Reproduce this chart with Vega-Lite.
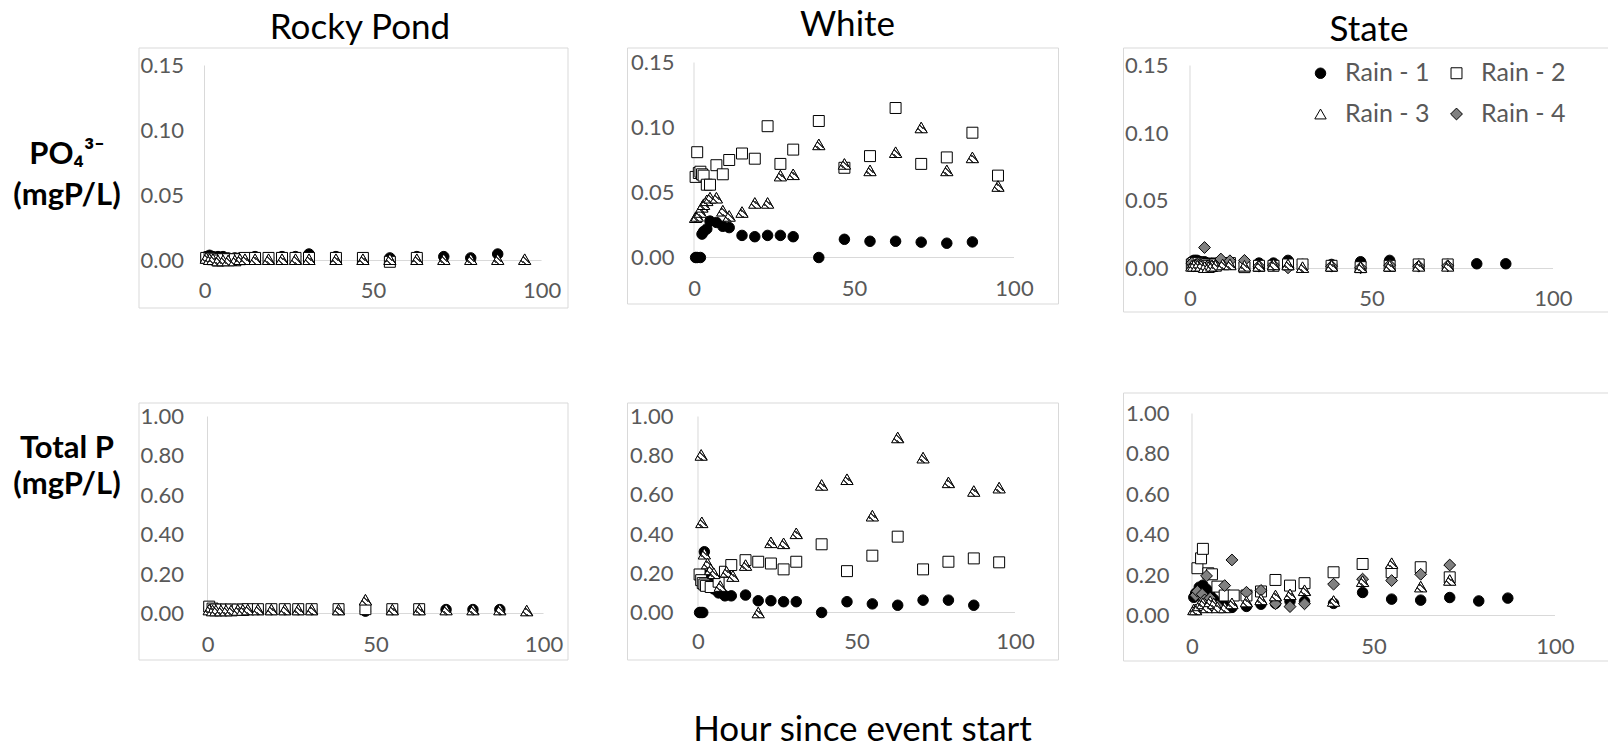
{
"$schema": "https://vega.github.io/schema/vega-lite/v6.json",
"padding": {"left": 0, "top": 7.5, "right": 0, "bottom": 0},
"config": {
 "view": {"stroke": "#d9d9d9", "strokeWidth": 1},
 "font": "Lato",
 "axis": {"domain": false, "ticks": false, "tickSize": 0, "grid": false, "labelFont": "Lato", "labelFontSize": 22, "labelColor": "#595959", "labelFlush": false, "labelOverlap": false, "title": null},
 "title": {"font": "Lato", "fontSize": 35, "fontWeight": "normal", "color": "#000000", "anchor": "middle"},
 "legend": {"orient": "none", "legendX": 1308, "legendY": 13, "direction": "horizontal", "columns": 2, "title": null, "labelFont": "Lato", "labelFontSize": 25, "labelColor": "#595959", "labelOffset": 12, "columnPadding": 14, "rowPadding": 15, "symbolStrokeColor": "#000000", "symbolStrokeWidth": 1, "padding": 0}
},
"datasets": {
"rp_po4": [
{"series":"Rain - 1","hour":0.5,"value":0.003},{"series":"Rain - 1","hour":1.5,"value":0.004},{"series":"Rain - 1","hour":2.5,"value":0.003},{"series":"Rain - 1","hour":4,"value":0.003},{"series":"Rain - 1","hour":5.5,"value":0.003},{"series":"Rain - 1","hour":7,"value":0.002},{"series":"Rain - 1","hour":9,"value":0.002},{"series":"Rain - 1","hour":10.5,"value":0.002},{"series":"Rain - 1","hour":12,"value":0.002},{"series":"Rain - 1","hour":15,"value":0.003},{"series":"Rain - 1","hour":19,"value":0.002},{"series":"Rain - 1","hour":23,"value":0.003},{"series":"Rain - 1","hour":27,"value":0.003},{"series":"Rain - 1","hour":31,"value":0.005},{"series":"Rain - 1","hour":39,"value":0.003},{"series":"Rain - 1","hour":47,"value":0.002},{"series":"Rain - 1","hour":55,"value":0.002},{"series":"Rain - 1","hour":63,"value":0.003},{"series":"Rain - 1","hour":71,"value":0.003},{"series":"Rain - 1","hour":79,"value":0.002},{"series":"Rain - 1","hour":87,"value":0.005},
{"series":"Rain - 2","hour":0.5,"value":0.002},{"series":"Rain - 2","hour":1.5,"value":0.002},{"series":"Rain - 2","hour":2.5,"value":0.001},{"series":"Rain - 2","hour":4,"value":0.0},{"series":"Rain - 2","hour":5.5,"value":0.001},{"series":"Rain - 2","hour":7,"value":0.001},{"series":"Rain - 2","hour":9,"value":0.001},{"series":"Rain - 2","hour":10.5,"value":0.001},{"series":"Rain - 2","hour":12,"value":0.002},{"series":"Rain - 2","hour":15,"value":0.002},{"series":"Rain - 2","hour":19,"value":0.002},{"series":"Rain - 2","hour":23,"value":0.002},{"series":"Rain - 2","hour":27,"value":0.002},{"series":"Rain - 2","hour":31,"value":0.002},{"series":"Rain - 2","hour":39,"value":0.002},{"series":"Rain - 2","hour":47,"value":0.002},{"series":"Rain - 2","hour":55,"value":-0.001},{"series":"Rain - 2","hour":63,"value":0.002},
{"series":"Rain - 3","hour":0.5,"value":0.002},{"series":"Rain - 3","hour":1.5,"value":0.001},{"series":"Rain - 3","hour":2.5,"value":0.001},{"series":"Rain - 3","hour":4,"value":0.0},{"series":"Rain - 3","hour":5.5,"value":0.0},{"series":"Rain - 3","hour":7,"value":0.0},{"series":"Rain - 3","hour":9,"value":0.0},{"series":"Rain - 3","hour":10.5,"value":0.001},{"series":"Rain - 3","hour":12,"value":0.001},{"series":"Rain - 3","hour":15,"value":0.001},{"series":"Rain - 3","hour":19,"value":0.001},{"series":"Rain - 3","hour":23,"value":0.001},{"series":"Rain - 3","hour":27,"value":0.001},{"series":"Rain - 3","hour":31,"value":0.001},{"series":"Rain - 3","hour":39,"value":0.001},{"series":"Rain - 3","hour":47,"value":0.001},{"series":"Rain - 3","hour":55,"value":0.001},{"series":"Rain - 3","hour":63,"value":0.001},{"series":"Rain - 3","hour":71,"value":0.001},{"series":"Rain - 3","hour":79,"value":0.001},{"series":"Rain - 3","hour":87,"value":0.001},{"series":"Rain - 3","hour":95,"value":0.001}
],
"rp_tp": [
{"series":"Rain - 1","hour":0.5,"value":0.025},{"series":"Rain - 1","hour":1.5,"value":0.02},{"series":"Rain - 1","hour":2.5,"value":0.02},{"series":"Rain - 1","hour":4,"value":0.02},{"series":"Rain - 1","hour":5.5,"value":0.02},{"series":"Rain - 1","hour":7,"value":0.02},{"series":"Rain - 1","hour":9,"value":0.02},{"series":"Rain - 1","hour":10.5,"value":0.02},{"series":"Rain - 1","hour":12,"value":0.02},{"series":"Rain - 1","hour":15,"value":0.02},{"series":"Rain - 1","hour":19,"value":0.02},{"series":"Rain - 1","hour":23,"value":0.02},{"series":"Rain - 1","hour":27,"value":0.02},{"series":"Rain - 1","hour":31,"value":0.02},{"series":"Rain - 1","hour":39,"value":0.02},{"series":"Rain - 1","hour":47,"value":0.012},{"series":"Rain - 1","hour":55,"value":0.02},{"series":"Rain - 1","hour":63,"value":0.02},{"series":"Rain - 1","hour":71,"value":0.02},{"series":"Rain - 1","hour":79,"value":0.02},{"series":"Rain - 1","hour":87,"value":0.02},
{"series":"Rain - 2","hour":0.5,"value":0.035},{"series":"Rain - 2","hour":1.5,"value":0.025},{"series":"Rain - 2","hour":2.5,"value":0.02},{"series":"Rain - 2","hour":4,"value":0.02},{"series":"Rain - 2","hour":5.5,"value":0.02},{"series":"Rain - 2","hour":7,"value":0.02},{"series":"Rain - 2","hour":9,"value":0.02},{"series":"Rain - 2","hour":10.5,"value":0.02},{"series":"Rain - 2","hour":12,"value":0.022},{"series":"Rain - 2","hour":15,"value":0.022},{"series":"Rain - 2","hour":19,"value":0.022},{"series":"Rain - 2","hour":23,"value":0.022},{"series":"Rain - 2","hour":27,"value":0.022},{"series":"Rain - 2","hour":31,"value":0.022},{"series":"Rain - 2","hour":39,"value":0.022},{"series":"Rain - 2","hour":47,"value":0.022},{"series":"Rain - 2","hour":55,"value":0.022},{"series":"Rain - 2","hour":63,"value":0.022},
{"series":"Rain - 3","hour":0.5,"value":0.02},{"series":"Rain - 3","hour":1.5,"value":0.015},{"series":"Rain - 3","hour":2.5,"value":0.015},{"series":"Rain - 3","hour":4,"value":0.015},{"series":"Rain - 3","hour":5.5,"value":0.015},{"series":"Rain - 3","hour":7,"value":0.015},{"series":"Rain - 3","hour":9,"value":0.018},{"series":"Rain - 3","hour":10.5,"value":0.018},{"series":"Rain - 3","hour":12,"value":0.02},{"series":"Rain - 3","hour":15,"value":0.02},{"series":"Rain - 3","hour":19,"value":0.02},{"series":"Rain - 3","hour":23,"value":0.02},{"series":"Rain - 3","hour":27,"value":0.02},{"series":"Rain - 3","hour":31,"value":0.02},{"series":"Rain - 3","hour":39,"value":0.02},{"series":"Rain - 3","hour":47,"value":0.07},{"series":"Rain - 3","hour":55,"value":0.02},{"series":"Rain - 3","hour":63,"value":0.02},{"series":"Rain - 3","hour":71,"value":0.02},{"series":"Rain - 3","hour":79,"value":0.02},{"series":"Rain - 3","hour":87,"value":0.02},{"series":"Rain - 3","hour":95,"value":0.015}
],
"wh_po4": [
{"series":"Rain - 1","hour":0.5,"value":0.0},{"series":"Rain - 1","hour":1,"value":0.0},{"series":"Rain - 1","hour":2,"value":0.0},{"series":"Rain - 1","hour":2.5,"value":0.018},{"series":"Rain - 1","hour":3,"value":0.02},{"series":"Rain - 1","hour":4,"value":0.022},{"series":"Rain - 1","hour":5,"value":0.028},{"series":"Rain - 1","hour":7,"value":0.027},{"series":"Rain - 1","hour":9,"value":0.024},{"series":"Rain - 1","hour":11,"value":0.023},{"series":"Rain - 1","hour":15,"value":0.017},{"series":"Rain - 1","hour":19,"value":0.016},{"series":"Rain - 1","hour":23,"value":0.017},{"series":"Rain - 1","hour":27,"value":0.017},{"series":"Rain - 1","hour":31,"value":0.016},{"series":"Rain - 1","hour":39,"value":0.0},{"series":"Rain - 1","hour":47,"value":0.014},{"series":"Rain - 1","hour":55,"value":0.0125},{"series":"Rain - 1","hour":63,"value":0.0125},{"series":"Rain - 1","hour":71,"value":0.0118},{"series":"Rain - 1","hour":79,"value":0.011},{"series":"Rain - 1","hour":87,"value":0.012},
{"series":"Rain - 2","hour":0.5,"value":0.062},{"series":"Rain - 2","hour":1,"value":0.081},{"series":"Rain - 2","hour":1.5,"value":0.065},{"series":"Rain - 2","hour":2,"value":0.066},{"series":"Rain - 2","hour":2.5,"value":0.064},{"series":"Rain - 2","hour":3,"value":0.063},{"series":"Rain - 2","hour":4,"value":0.056},{"series":"Rain - 2","hour":5,"value":0.056},{"series":"Rain - 2","hour":7,"value":0.071},{"series":"Rain - 2","hour":9,"value":0.064},{"series":"Rain - 2","hour":11,"value":0.075},{"series":"Rain - 2","hour":15,"value":0.08},{"series":"Rain - 2","hour":19,"value":0.076},{"series":"Rain - 2","hour":23,"value":0.101},{"series":"Rain - 2","hour":27,"value":0.072},{"series":"Rain - 2","hour":31,"value":0.083},{"series":"Rain - 2","hour":39,"value":0.105},{"series":"Rain - 2","hour":47,"value":0.069},{"series":"Rain - 2","hour":55,"value":0.078},{"series":"Rain - 2","hour":63,"value":0.115},{"series":"Rain - 2","hour":71,"value":0.072},{"series":"Rain - 2","hour":79,"value":0.077},{"series":"Rain - 2","hour":87,"value":0.096},{"series":"Rain - 2","hour":95,"value":0.063},
{"series":"Rain - 3","hour":0.5,"value":0.031},{"series":"Rain - 3","hour":1,"value":0.032},{"series":"Rain - 3","hour":2,"value":0.035},{"series":"Rain - 3","hour":2.5,"value":0.039},{"series":"Rain - 3","hour":3,"value":0.041},{"series":"Rain - 3","hour":4,"value":0.044},{"series":"Rain - 3","hour":5,"value":0.046},{"series":"Rain - 3","hour":7,"value":0.046},{"series":"Rain - 3","hour":9,"value":0.036},{"series":"Rain - 3","hour":11,"value":0.032},{"series":"Rain - 3","hour":15,"value":0.035},{"series":"Rain - 3","hour":19,"value":0.042},{"series":"Rain - 3","hour":23,"value":0.042},{"series":"Rain - 3","hour":27,"value":0.063},{"series":"Rain - 3","hour":31,"value":0.064},{"series":"Rain - 3","hour":39,"value":0.087},{"series":"Rain - 3","hour":47,"value":0.072},{"series":"Rain - 3","hour":55,"value":0.067},{"series":"Rain - 3","hour":63,"value":0.081},{"series":"Rain - 3","hour":71,"value":0.1},{"series":"Rain - 3","hour":79,"value":0.067},{"series":"Rain - 3","hour":87,"value":0.077},{"series":"Rain - 3","hour":95,"value":0.055}
],
"wh_tp": [
{"series":"Rain - 1","hour":0.5,"value":0.0},{"series":"Rain - 1","hour":1,"value":0.0},{"series":"Rain - 1","hour":1.5,"value":0.0},{"series":"Rain - 1","hour":2,"value":0.31},{"series":"Rain - 1","hour":2.5,"value":0.19},{"series":"Rain - 1","hour":3,"value":0.16},{"series":"Rain - 1","hour":4,"value":0.14},{"series":"Rain - 1","hour":5,"value":0.12},{"series":"Rain - 1","hour":6.5,"value":0.1},{"series":"Rain - 1","hour":8.5,"value":0.085},{"series":"Rain - 1","hour":10.5,"value":0.085},{"series":"Rain - 1","hour":15,"value":0.089},{"series":"Rain - 1","hour":19,"value":0.06},{"series":"Rain - 1","hour":23,"value":0.06},{"series":"Rain - 1","hour":27,"value":0.055},{"series":"Rain - 1","hour":31,"value":0.055},{"series":"Rain - 1","hour":39,"value":0.0},{"series":"Rain - 1","hour":47,"value":0.055},{"series":"Rain - 1","hour":55,"value":0.044},{"series":"Rain - 1","hour":63,"value":0.037},{"series":"Rain - 1","hour":71,"value":0.063},{"series":"Rain - 1","hour":79,"value":0.063},{"series":"Rain - 1","hour":87,"value":0.037},
{"series":"Rain - 2","hour":0.5,"value":0.194},{"series":"Rain - 2","hour":1,"value":0.165},{"series":"Rain - 2","hour":1.5,"value":0.15},{"series":"Rain - 2","hour":2,"value":0.143},{"series":"Rain - 2","hour":2.5,"value":0.136},{"series":"Rain - 2","hour":4,"value":0.13},{"series":"Rain - 2","hour":6.5,"value":0.157},{"series":"Rain - 2","hour":8.5,"value":0.208},{"series":"Rain - 2","hour":10.5,"value":0.242},{"series":"Rain - 2","hour":15,"value":0.267},{"series":"Rain - 2","hour":19,"value":0.259},{"series":"Rain - 2","hour":23,"value":0.25},{"series":"Rain - 2","hour":27,"value":0.22},{"series":"Rain - 2","hour":31,"value":0.259},{"series":"Rain - 2","hour":39,"value":0.348},{"series":"Rain - 2","hour":47,"value":0.211},{"series":"Rain - 2","hour":55,"value":0.29},{"series":"Rain - 2","hour":63,"value":0.387},{"series":"Rain - 2","hour":71,"value":0.22},{"series":"Rain - 2","hour":79,"value":0.259},{"series":"Rain - 2","hour":87,"value":0.276},{"series":"Rain - 2","hour":95,"value":0.256},
{"series":"Rain - 3","hour":1,"value":0.804},{"series":"Rain - 3","hour":1.2,"value":0.46},{"series":"Rain - 3","hour":2,"value":0.3},{"series":"Rain - 3","hour":3,"value":0.25},{"series":"Rain - 3","hour":4,"value":0.22},{"series":"Rain - 3","hour":5,"value":0.2},{"series":"Rain - 3","hour":7,"value":0.135},{"series":"Rain - 3","hour":9,"value":0.208},{"series":"Rain - 3","hour":11,"value":0.186},{"series":"Rain - 3","hour":15,"value":0.242},{"series":"Rain - 3","hour":19,"value":0.0},{"series":"Rain - 3","hour":23,"value":0.358},{"series":"Rain - 3","hour":27,"value":0.353},{"series":"Rain - 3","hour":31,"value":0.404},{"series":"Rain - 3","hour":39,"value":0.651},{"series":"Rain - 3","hour":47,"value":0.68},{"series":"Rain - 3","hour":55,"value":0.494},{"series":"Rain - 3","hour":63,"value":0.893},{"series":"Rain - 3","hour":71,"value":0.79},{"series":"Rain - 3","hour":79,"value":0.664},{"series":"Rain - 3","hour":87,"value":0.62},{"series":"Rain - 3","hour":95,"value":0.637}
],
"st_po4": [
{"series":"Rain - 1","hour":0.5,"value":0.005},{"series":"Rain - 1","hour":1,"value":0.006},{"series":"Rain - 1","hour":1.5,"value":0.006},{"series":"Rain - 1","hour":2,"value":0.006},{"series":"Rain - 1","hour":3,"value":0.005},{"series":"Rain - 1","hour":4,"value":0.005},{"series":"Rain - 1","hour":5,"value":0.004},{"series":"Rain - 1","hour":6,"value":0.004},{"series":"Rain - 1","hour":7,"value":0.004},{"series":"Rain - 1","hour":9,"value":0.004},{"series":"Rain - 1","hour":11,"value":0.004},{"series":"Rain - 1","hour":15,"value":0.004},{"series":"Rain - 1","hour":19,"value":0.004},{"series":"Rain - 1","hour":23,"value":0.004},{"series":"Rain - 1","hour":27,"value":0.006},{"series":"Rain - 1","hour":31,"value":0.003},{"series":"Rain - 1","hour":39,"value":0.003},{"series":"Rain - 1","hour":47,"value":0.005},{"series":"Rain - 1","hour":55,"value":0.006},{"series":"Rain - 1","hour":63,"value":0.003},{"series":"Rain - 1","hour":71,"value":0.003},{"series":"Rain - 1","hour":79,"value":0.0035},{"series":"Rain - 1","hour":87,"value":0.0035},
{"series":"Rain - 2","hour":0.5,"value":0.003},{"series":"Rain - 2","hour":1,"value":0.004},{"series":"Rain - 2","hour":2,"value":0.004},{"series":"Rain - 2","hour":3,"value":0.003},{"series":"Rain - 2","hour":4,"value":0.003},{"series":"Rain - 2","hour":5,"value":0.002},{"series":"Rain - 2","hour":6,"value":0.002},{"series":"Rain - 2","hour":7,"value":0.003},{"series":"Rain - 2","hour":9,"value":0.004},{"series":"Rain - 2","hour":11,"value":0.004},{"series":"Rain - 2","hour":15,"value":0.001},{"series":"Rain - 2","hour":19,"value":0.002},{"series":"Rain - 2","hour":23,"value":0.002},{"series":"Rain - 2","hour":27,"value":0.003},{"series":"Rain - 2","hour":31,"value":0.003},{"series":"Rain - 2","hour":39,"value":0.002},{"series":"Rain - 2","hour":47,"value":0.001},{"series":"Rain - 2","hour":55,"value":0.002},{"series":"Rain - 2","hour":63,"value":0.003},{"series":"Rain - 2","hour":71,"value":0.003},
{"series":"Rain - 3","hour":0.5,"value":0.002},{"series":"Rain - 3","hour":1,"value":0.002},{"series":"Rain - 3","hour":2,"value":0.002},{"series":"Rain - 3","hour":3,"value":0.002},{"series":"Rain - 3","hour":4,"value":0.001},{"series":"Rain - 3","hour":5,"value":0.001},{"series":"Rain - 3","hour":6,"value":0.002},{"series":"Rain - 3","hour":7,"value":0.002},{"series":"Rain - 3","hour":9,"value":0.003},{"series":"Rain - 3","hour":11,"value":0.003},{"series":"Rain - 3","hour":15,"value":0.002},{"series":"Rain - 3","hour":19,"value":0.002},{"series":"Rain - 3","hour":23,"value":0.003},{"series":"Rain - 3","hour":27,"value":0.003},{"series":"Rain - 3","hour":31,"value":0.001},{"series":"Rain - 3","hour":39,"value":0.002},{"series":"Rain - 3","hour":47,"value":0.001},{"series":"Rain - 3","hour":55,"value":0.002},{"series":"Rain - 3","hour":63,"value":0.002},{"series":"Rain - 3","hour":71,"value":0.002},
{"series":"Rain - 4","hour":0.5,"value":0.004},{"series":"Rain - 4","hour":1,"value":0.002},{"series":"Rain - 4","hour":2,"value":0.003},{"series":"Rain - 4","hour":3,"value":0.0025},{"series":"Rain - 4","hour":4,"value":0.0155},{"series":"Rain - 4","hour":5,"value":0.002},{"series":"Rain - 4","hour":6,"value":0.002},{"series":"Rain - 4","hour":7,"value":0.002},{"series":"Rain - 4","hour":8.5,"value":0.007},{"series":"Rain - 4","hour":11,"value":0.0057},{"series":"Rain - 4","hour":15,"value":0.006},{"series":"Rain - 4","hour":19,"value":0.0017},{"series":"Rain - 4","hour":23,"value":0.0025},{"series":"Rain - 4","hour":27,"value":0.0005},{"series":"Rain - 4","hour":39,"value":0.0017},{"series":"Rain - 4","hour":47,"value":0.0005},{"series":"Rain - 4","hour":55,"value":0.0025},{"series":"Rain - 4","hour":63,"value":0.0017},{"series":"Rain - 4","hour":71,"value":0.002}
],
"st_tp": [
{"series":"Rain - 1","hour":0.5,"value":0.09},{"series":"Rain - 1","hour":1,"value":0.11},{"series":"Rain - 1","hour":2,"value":0.14},{"series":"Rain - 1","hour":3,"value":0.15},{"series":"Rain - 1","hour":4,"value":0.13},{"series":"Rain - 1","hour":5,"value":0.1},{"series":"Rain - 1","hour":6,"value":0.08},{"series":"Rain - 1","hour":7,"value":0.06},{"series":"Rain - 1","hour":9,"value":0.05},{"series":"Rain - 1","hour":11,"value":0.04},{"series":"Rain - 1","hour":15,"value":0.045},{"series":"Rain - 1","hour":19,"value":0.056},{"series":"Rain - 1","hour":23,"value":0.06},{"series":"Rain - 1","hour":27,"value":0.07},{"series":"Rain - 1","hour":31,"value":0.07},{"series":"Rain - 1","hour":39,"value":0.06},{"series":"Rain - 1","hour":47,"value":0.114},{"series":"Rain - 1","hour":55,"value":0.081},{"series":"Rain - 1","hour":63,"value":0.076},{"series":"Rain - 1","hour":71,"value":0.089},{"series":"Rain - 1","hour":79,"value":0.072},{"series":"Rain - 1","hour":87,"value":0.086},
{"series":"Rain - 2","hour":1.5,"value":0.234},{"series":"Rain - 2","hour":2.5,"value":0.283},{"series":"Rain - 2","hour":3,"value":0.33},{"series":"Rain - 2","hour":4.5,"value":0.209},{"series":"Rain - 2","hour":5.5,"value":0.204},{"series":"Rain - 2","hour":7,"value":0.143},{"series":"Rain - 2","hour":9,"value":0.099},{"series":"Rain - 2","hour":11.5,"value":0.099},{"series":"Rain - 2","hour":15,"value":0.099},{"series":"Rain - 2","hour":19,"value":0.119},{"series":"Rain - 2","hour":23,"value":0.176},{"series":"Rain - 2","hour":27,"value":0.148},{"series":"Rain - 2","hour":31,"value":0.16},{"series":"Rain - 2","hour":39,"value":0.214},{"series":"Rain - 2","hour":47,"value":0.255},{"series":"Rain - 2","hour":55,"value":0.214},{"series":"Rain - 2","hour":63,"value":0.239},{"series":"Rain - 2","hour":71,"value":0.189},
{"series":"Rain - 3","hour":0.5,"value":0.03},{"series":"Rain - 3","hour":1,"value":0.03},{"series":"Rain - 3","hour":2,"value":0.05},{"series":"Rain - 3","hour":3,"value":0.06},{"series":"Rain - 3","hour":4,"value":0.04},{"series":"Rain - 3","hour":5,"value":0.07},{"series":"Rain - 3","hour":6,"value":0.06},{"series":"Rain - 3","hour":7,"value":0.04},{"series":"Rain - 3","hour":9,"value":0.04},{"series":"Rain - 3","hour":11,"value":0.06},{"series":"Rain - 3","hour":15,"value":0.069},{"series":"Rain - 3","hour":19,"value":0.08},{"series":"Rain - 3","hour":23,"value":0.099},{"series":"Rain - 3","hour":27,"value":0.105},{"series":"Rain - 3","hour":31,"value":0.125},{"series":"Rain - 3","hour":39,"value":0.072},{"series":"Rain - 3","hour":47,"value":0.17},{"series":"Rain - 3","hour":55,"value":0.259},{"series":"Rain - 3","hour":63,"value":0.143},{"series":"Rain - 3","hour":71,"value":0.176},
{"series":"Rain - 4","hour":1,"value":0.1},{"series":"Rain - 4","hour":1.5,"value":0.12},{"series":"Rain - 4","hour":2.8,"value":0.105},{"series":"Rain - 4","hour":3.5,"value":0.077},{"series":"Rain - 4","hour":4,"value":0.196},{"series":"Rain - 4","hour":5,"value":0.086},{"series":"Rain - 4","hour":7,"value":0.048},{"series":"Rain - 4","hour":9,"value":0.148},{"series":"Rain - 4","hour":11,"value":0.275},{"series":"Rain - 4","hour":15,"value":0.115},{"series":"Rain - 4","hour":19,"value":0.124},{"series":"Rain - 4","hour":23,"value":0.058},{"series":"Rain - 4","hour":27,"value":0.044},{"series":"Rain - 4","hour":31,"value":0.058},{"series":"Rain - 4","hour":39,"value":0.155},{"series":"Rain - 4","hour":47,"value":0.18},{"series":"Rain - 4","hour":55,"value":0.173},{"series":"Rain - 4","hour":63,"value":0.204},{"series":"Rain - 4","hour":71,"value":0.25}
]
},
"spacing": 63,
"hconcat": [
 {"spacing": 58, "hconcat": [
  {"spacing": 3.5, "hconcat": [
   {"spacing": 0, "vconcat": [
    {"width": 134, "height": 214, "view": {"stroke": null}, "data": {"values": [{"label": "PO₄³⁻\n(mgP/L)"}]}, "mark": {"type": "text", "font": "Lato", "fontSize": 31, "fontWeight": "bold", "color": "#000000", "lineBreak": "\n", "lineHeight": 41, "baseline": "middle", "align": "center"}, "encoding": {"text": {"field": "label", "type": "nominal"}}},
    {"width": 134, "height": 374, "view": {"stroke": null}, "data": {"values": [{"label": "Total P\n(mgP/L)"}]}, "mark": {"type": "text", "font": "Lato", "fontSize": 31, "fontWeight": "bold", "color": "#000000", "lineBreak": "\n", "lineHeight": 36, "baseline": "middle", "align": "center"}, "encoding": {"text": {"field": "label", "type": "nominal"}}}
   ]},
   {"spacing": 93, "vconcat": [
    {"width": 429, "height": 260, "title": {"text": "Rocky Pond", "offset": 1.5, "dx": 7},
     "layer": [
      {"data": {"values": [{}]}, "mark": {"type": "rule", "color": "#d9d9d9"}, "encoding": {"x": {"datum": 0, "type": "quantitative"}, "y": {"datum": 0, "type": "quantitative"}, "y2": {"datum": 0.15}}},
      {"data": {"values": [{}]}, "mark": {"type": "rule", "color": "#d9d9d9"}, "encoding": {"x": {"datum": 0, "type": "quantitative"}, "x2": {"datum": 100}, "y": {"datum": 0, "type": "quantitative"}}},
      {"data": {"name": "rp_po4"}, "mark": {"type": "point", "filled": true, "strokeWidth": 1, "opacity": 1},
       "encoding": {
        "x": {"field": "hour", "type": "quantitative", "scale": {"domain": [-19.585, 107.71], "nice": false, "zero": false}, "axis": {"values": [0, 50, 100], "offset": -47, "labelPadding": 20}},
        "y": {"field": "value", "type": "quantitative", "scale": {"domain": [-0.03615, 0.16385], "nice": false, "zero": false}, "axis": {"values": [0, 0.05, 0.1, 0.15], "format": ".2f", "offset": -66, "labelPadding": 21}},
        "shape": {"field": "series", "type": "nominal", "scale": {"domain": ["Rain - 1", "Rain - 2", "Rain - 3", "Rain - 4"], "range": ["circle", "square", "triangle-up", "diamond"]}},
        "fill": {"field": "series", "type": "nominal", "scale": {"domain": ["Rain - 1", "Rain - 2", "Rain - 3", "Rain - 4"], "range": ["#000000", "#ffffff", "#ffffff", "#808080"]}},
        "stroke": {"field": "series", "type": "nominal", "scale": {"domain": ["Rain - 1", "Rain - 2", "Rain - 3", "Rain - 4"], "range": ["#000000", "#000000", "#000000", "#000000"]}},
        "size": {"field": "series", "type": "nominal", "scale": {"domain": ["Rain - 1", "Rain - 2", "Rain - 3", "Rain - 4"], "range": [110, 140, 150, 130]}}
       }},
      {"data": {"name": "rp_po4"}, "transform": [{"filter": "datum.series === 'Rain - 3'"}], "mark": {"type": "point", "shape": "triangle-up", "size": 150, "filled": true, "stroke": "#000000", "strokeWidth": 1, "opacity": 1, "fill": {"gradient": "linear", "x1": 0, "y1": 1, "x2": 1, "y2": 0, "stops": [{"offset": 0, "color": "#ffffff"}, {"offset": 0.25, "color": "#ffffff"}, {"offset": 0.25, "color": "#404040"}, {"offset": 0.35, "color": "#404040"}, {"offset": 0.35, "color": "#ffffff"}, {"offset": 0.5, "color": "#ffffff"}, {"offset": 0.5, "color": "#404040"}, {"offset": 0.6, "color": "#404040"}, {"offset": 0.6, "color": "#ffffff"}, {"offset": 0.75, "color": "#ffffff"}, {"offset": 0.75, "color": "#404040"}, {"offset": 0.85, "color": "#404040"}, {"offset": 0.85, "color": "#ffffff"}, {"offset": 1, "color": "#ffffff"}]}},
       "encoding": {"x": {"field": "hour", "type": "quantitative"}, "y": {"field": "value", "type": "quantitative"}}}
     ]},
    {"width": 429, "height": 257,
     "layer": [
      {"data": {"values": [{}]}, "mark": {"type": "rule", "color": "#d9d9d9"}, "encoding": {"x": {"datum": 0, "type": "quantitative"}, "y": {"datum": 0, "type": "quantitative"}, "y2": {"datum": 1}}},
      {"data": {"values": [{}]}, "mark": {"type": "rule", "color": "#d9d9d9"}, "encoding": {"x": {"datum": 0, "type": "quantitative"}, "x2": {"datum": 100}, "y": {"datum": 0, "type": "quantitative"}}},
      {"data": {"name": "rp_tp"}, "mark": {"type": "point", "filled": true, "strokeWidth": 1, "opacity": 1},
       "encoding": {
        "x": {"field": "hour", "type": "quantitative", "scale": {"domain": [-20.536, 107.14], "nice": false, "zero": false}, "axis": {"values": [0, 50, 100], "offset": -46, "labelPadding": 21}},
        "y": {"field": "value", "type": "quantitative", "scale": {"domain": [-0.2335, 1.0711], "nice": false, "zero": false}, "axis": {"values": [0, 0.2, 0.4, 0.6, 0.8, 1], "format": ".2f", "offset": -69, "labelPadding": 24}},
        "shape": {"field": "series", "type": "nominal", "scale": {"domain": ["Rain - 1", "Rain - 2", "Rain - 3", "Rain - 4"], "range": ["circle", "square", "triangle-up", "diamond"]}},
        "fill": {"field": "series", "type": "nominal", "scale": {"domain": ["Rain - 1", "Rain - 2", "Rain - 3", "Rain - 4"], "range": ["#000000", "#ffffff", "#ffffff", "#808080"]}},
        "stroke": {"field": "series", "type": "nominal", "scale": {"domain": ["Rain - 1", "Rain - 2", "Rain - 3", "Rain - 4"], "range": ["#000000", "#000000", "#000000", "#000000"]}},
        "size": {"field": "series", "type": "nominal", "scale": {"domain": ["Rain - 1", "Rain - 2", "Rain - 3", "Rain - 4"], "range": [110, 140, 150, 130]}}
       }},
      {"data": {"name": "rp_tp"}, "transform": [{"filter": "datum.series === 'Rain - 3'"}], "mark": {"type": "point", "shape": "triangle-up", "size": 150, "filled": true, "stroke": "#000000", "strokeWidth": 1, "opacity": 1, "fill": {"gradient": "linear", "x1": 0, "y1": 1, "x2": 1, "y2": 0, "stops": [{"offset": 0, "color": "#ffffff"}, {"offset": 0.25, "color": "#ffffff"}, {"offset": 0.25, "color": "#404040"}, {"offset": 0.35, "color": "#404040"}, {"offset": 0.35, "color": "#ffffff"}, {"offset": 0.5, "color": "#ffffff"}, {"offset": 0.5, "color": "#404040"}, {"offset": 0.6, "color": "#404040"}, {"offset": 0.6, "color": "#ffffff"}, {"offset": 0.75, "color": "#ffffff"}, {"offset": 0.75, "color": "#404040"}, {"offset": 0.85, "color": "#404040"}, {"offset": 0.85, "color": "#ffffff"}, {"offset": 1, "color": "#ffffff"}]}},
       "encoding": {"x": {"field": "hour", "type": "quantitative"}, "y": {"field": "value", "type": "quantitative"}}}
     ]}
   ]}
  ]},
  {"spacing": 97, "vconcat": [
    {"width": 431, "height": 256, "title": {"text": "White", "offset": 4.5, "dx": 5},
     "layer": [
      {"data": {"values": [{}]}, "mark": {"type": "rule", "color": "#d9d9d9"}, "encoding": {"x": {"datum": 0, "type": "quantitative"}, "y": {"datum": 0, "type": "quantitative"}, "y2": {"datum": 0.15}}},
      {"data": {"values": [{}]}, "mark": {"type": "rule", "color": "#d9d9d9"}, "encoding": {"x": {"datum": 0, "type": "quantitative"}, "x2": {"datum": 100}, "y": {"datum": 0, "type": "quantitative"}}},
      {"data": {"name": "wh_po4"}, "mark": {"type": "point", "filled": true, "strokeWidth": 1, "opacity": 1},
       "encoding": {
        "x": {"field": "hour", "type": "quantitative", "scale": {"domain": [-20.9375, 113.75], "nice": false, "zero": false}, "axis": {"values": [0, 50, 100], "offset": -46, "labelPadding": 21}},
        "y": {"field": "value", "type": "quantitative", "scale": {"domain": [-0.03538, 0.16154], "nice": false, "zero": false}, "axis": {"values": [0, 0.05, 0.1, 0.15], "format": ".2f", "offset": -67, "labelPadding": 20}},
        "shape": {"field": "series", "type": "nominal", "scale": {"domain": ["Rain - 1", "Rain - 2", "Rain - 3", "Rain - 4"], "range": ["circle", "square", "triangle-up", "diamond"]}},
        "fill": {"field": "series", "type": "nominal", "scale": {"domain": ["Rain - 1", "Rain - 2", "Rain - 3", "Rain - 4"], "range": ["#000000", "#ffffff", "#ffffff", "#808080"]}},
        "stroke": {"field": "series", "type": "nominal", "scale": {"domain": ["Rain - 1", "Rain - 2", "Rain - 3", "Rain - 4"], "range": ["#000000", "#000000", "#000000", "#000000"]}},
        "size": {"field": "series", "type": "nominal", "scale": {"domain": ["Rain - 1", "Rain - 2", "Rain - 3", "Rain - 4"], "range": [110, 140, 150, 130]}}
       }},
      {"data": {"name": "wh_po4"}, "transform": [{"filter": "datum.series === 'Rain - 3'"}], "mark": {"type": "point", "shape": "triangle-up", "size": 150, "filled": true, "stroke": "#000000", "strokeWidth": 1, "opacity": 1, "fill": {"gradient": "linear", "x1": 0, "y1": 1, "x2": 1, "y2": 0, "stops": [{"offset": 0, "color": "#ffffff"}, {"offset": 0.25, "color": "#ffffff"}, {"offset": 0.25, "color": "#404040"}, {"offset": 0.35, "color": "#404040"}, {"offset": 0.35, "color": "#ffffff"}, {"offset": 0.5, "color": "#ffffff"}, {"offset": 0.5, "color": "#404040"}, {"offset": 0.6, "color": "#404040"}, {"offset": 0.6, "color": "#ffffff"}, {"offset": 0.75, "color": "#ffffff"}, {"offset": 0.75, "color": "#404040"}, {"offset": 0.85, "color": "#404040"}, {"offset": 0.85, "color": "#ffffff"}, {"offset": 1, "color": "#ffffff"}]}},
       "encoding": {"x": {"field": "hour", "type": "quantitative"}, "y": {"field": "value", "type": "quantitative"}}}
     ]},
    {"width": 431, "height": 257, "title": {"text": "Hour since event start", "orient": "bottom", "offset": 53, "dx": 20, "fontSize": 35},
     "layer": [
      {"data": {"values": [{}]}, "mark": {"type": "rule", "color": "#d9d9d9"}, "encoding": {"x": {"datum": 0, "type": "quantitative"}, "y": {"datum": 0, "type": "quantitative"}, "y2": {"datum": 1}}},
      {"data": {"values": [{}]}, "mark": {"type": "rule", "color": "#d9d9d9"}, "encoding": {"x": {"datum": 0, "type": "quantitative"}, "x2": {"datum": 100}, "y": {"datum": 0, "type": "quantitative"}}},
      {"data": {"name": "wh_tp"}, "mark": {"type": "point", "filled": true, "strokeWidth": 1, "opacity": 1},
       "encoding": {
        "x": {"field": "hour", "type": "quantitative", "scale": {"domain": [-22.397, 113.565], "nice": false, "zero": false}, "axis": {"values": [0, 50, 100], "offset": -47, "labelPadding": 19}},
        "y": {"field": "value", "type": "quantitative", "scale": {"domain": [-0.2398, 1.0714], "nice": false, "zero": false}, "axis": {"values": [0, 0.2, 0.4, 0.6, 0.8, 1], "format": ".2f", "offset": -71, "labelPadding": 25}},
        "shape": {"field": "series", "type": "nominal", "scale": {"domain": ["Rain - 1", "Rain - 2", "Rain - 3", "Rain - 4"], "range": ["circle", "square", "triangle-up", "diamond"]}},
        "fill": {"field": "series", "type": "nominal", "scale": {"domain": ["Rain - 1", "Rain - 2", "Rain - 3", "Rain - 4"], "range": ["#000000", "#ffffff", "#ffffff", "#808080"]}},
        "stroke": {"field": "series", "type": "nominal", "scale": {"domain": ["Rain - 1", "Rain - 2", "Rain - 3", "Rain - 4"], "range": ["#000000", "#000000", "#000000", "#000000"]}},
        "size": {"field": "series", "type": "nominal", "scale": {"domain": ["Rain - 1", "Rain - 2", "Rain - 3", "Rain - 4"], "range": [110, 140, 150, 130]}}
       }},
      {"data": {"name": "wh_tp"}, "transform": [{"filter": "datum.series === 'Rain - 3'"}], "mark": {"type": "point", "shape": "triangle-up", "size": 150, "filled": true, "stroke": "#000000", "strokeWidth": 1, "opacity": 1, "fill": {"gradient": "linear", "x1": 0, "y1": 1, "x2": 1, "y2": 0, "stops": [{"offset": 0, "color": "#ffffff"}, {"offset": 0.25, "color": "#ffffff"}, {"offset": 0.25, "color": "#404040"}, {"offset": 0.35, "color": "#404040"}, {"offset": 0.35, "color": "#ffffff"}, {"offset": 0.5, "color": "#ffffff"}, {"offset": 0.5, "color": "#404040"}, {"offset": 0.6, "color": "#404040"}, {"offset": 0.6, "color": "#ffffff"}, {"offset": 0.75, "color": "#ffffff"}, {"offset": 0.75, "color": "#404040"}, {"offset": 0.85, "color": "#404040"}, {"offset": 0.85, "color": "#ffffff"}, {"offset": 1, "color": "#ffffff"}]}},
       "encoding": {"x": {"field": "hour", "type": "quantitative"}, "y": {"field": "value", "type": "quantitative"}}}
     ]}
  ]}
 ]},
 {"spacing": 79, "vconcat": [
    {"width": 486, "height": 264, "title": {"text": "State", "offset": -0.5, "dx": 3},
     "layer": [
      {"data": {"values": [{}]}, "mark": {"type": "rule", "color": "#d9d9d9"}, "encoding": {"x": {"datum": 0, "type": "quantitative"}, "y": {"datum": 0, "type": "quantitative"}, "y2": {"datum": 0.15}}},
      {"data": {"values": [{}]}, "mark": {"type": "rule", "color": "#d9d9d9"}, "encoding": {"x": {"datum": 0, "type": "quantitative"}, "x2": {"datum": 100}, "y": {"datum": 0, "type": "quantitative"}}},
      {"data": {"name": "st_po4"}, "mark": {"type": "point", "filled": true, "strokeWidth": 1, "opacity": 1},
       "encoding": {
        "x": {"field": "hour", "type": "quantitative", "scale": {"domain": [-18.457, 115.43], "nice": false, "zero": false}, "axis": {"values": [0, 50, 100], "offset": -43, "labelPadding": 20}},
        "y": {"field": "value", "type": "quantitative", "scale": {"domain": [-0.03177, 0.1633], "nice": false, "zero": false}, "axis": {"values": [0, 0.05, 0.1, 0.15], "format": ".2f", "offset": -67, "labelPadding": 22}},
        "shape": {"field": "series", "type": "nominal", "scale": {"domain": ["Rain - 1", "Rain - 2", "Rain - 3", "Rain - 4"], "range": ["circle", "square", "triangle-up", "diamond"]}},
        "fill": {"field": "series", "type": "nominal", "scale": {"domain": ["Rain - 1", "Rain - 2", "Rain - 3", "Rain - 4"], "range": ["#000000", "#ffffff", "#ffffff", "#808080"]}},
        "stroke": {"field": "series", "type": "nominal", "scale": {"domain": ["Rain - 1", "Rain - 2", "Rain - 3", "Rain - 4"], "range": ["#000000", "#000000", "#000000", "#000000"]}},
        "size": {"field": "series", "type": "nominal", "scale": {"domain": ["Rain - 1", "Rain - 2", "Rain - 3", "Rain - 4"], "range": [110, 140, 150, 130]}}
       }},
      {"data": {"name": "st_po4"}, "transform": [{"filter": "datum.series === 'Rain - 3'"}], "mark": {"type": "point", "shape": "triangle-up", "size": 150, "filled": true, "stroke": "#000000", "strokeWidth": 1, "opacity": 1, "fill": {"gradient": "linear", "x1": 0, "y1": 1, "x2": 1, "y2": 0, "stops": [{"offset": 0, "color": "#ffffff"}, {"offset": 0.25, "color": "#ffffff"}, {"offset": 0.25, "color": "#404040"}, {"offset": 0.35, "color": "#404040"}, {"offset": 0.35, "color": "#ffffff"}, {"offset": 0.5, "color": "#ffffff"}, {"offset": 0.5, "color": "#404040"}, {"offset": 0.6, "color": "#404040"}, {"offset": 0.6, "color": "#ffffff"}, {"offset": 0.75, "color": "#ffffff"}, {"offset": 0.75, "color": "#404040"}, {"offset": 0.85, "color": "#404040"}, {"offset": 0.85, "color": "#ffffff"}, {"offset": 1, "color": "#ffffff"}]}},
       "encoding": {"x": {"field": "hour", "type": "quantitative"}, "y": {"field": "value", "type": "quantitative"}}}
     ]},
    {"width": 486, "height": 268,
     "layer": [
      {"data": {"values": [{}]}, "mark": {"type": "rule", "color": "#d9d9d9"}, "encoding": {"x": {"datum": 0, "type": "quantitative"}, "y": {"datum": 0, "type": "quantitative"}, "y2": {"datum": 1}}},
      {"data": {"values": [{}]}, "mark": {"type": "rule", "color": "#d9d9d9"}, "encoding": {"x": {"datum": 0, "type": "quantitative"}, "x2": {"datum": 100}, "y": {"datum": 0, "type": "quantitative"}}},
      {"data": {"name": "st_tp"}, "mark": {"type": "point", "filled": true, "strokeWidth": 1, "opacity": 1},
       "encoding": {
        "x": {"field": "hour", "type": "quantitative", "scale": {"domain": [-19.008, 114.88], "nice": false, "zero": false}, "axis": {"values": [0, 50, 100], "offset": -45, "labelPadding": 21}},
        "y": {"field": "value", "type": "quantitative", "scale": {"domain": [-0.2228, 1.104], "nice": false, "zero": false}, "axis": {"values": [0, 0.2, 0.4, 0.6, 0.8, 1], "format": ".2f", "offset": -69, "labelPadding": 23}},
        "shape": {"field": "series", "type": "nominal", "scale": {"domain": ["Rain - 1", "Rain - 2", "Rain - 3", "Rain - 4"], "range": ["circle", "square", "triangle-up", "diamond"]}},
        "fill": {"field": "series", "type": "nominal", "scale": {"domain": ["Rain - 1", "Rain - 2", "Rain - 3", "Rain - 4"], "range": ["#000000", "#ffffff", "#ffffff", "#808080"]}},
        "stroke": {"field": "series", "type": "nominal", "scale": {"domain": ["Rain - 1", "Rain - 2", "Rain - 3", "Rain - 4"], "range": ["#000000", "#000000", "#000000", "#000000"]}},
        "size": {"field": "series", "type": "nominal", "scale": {"domain": ["Rain - 1", "Rain - 2", "Rain - 3", "Rain - 4"], "range": [110, 140, 150, 130]}}
       }},
      {"data": {"name": "st_tp"}, "transform": [{"filter": "datum.series === 'Rain - 3'"}], "mark": {"type": "point", "shape": "triangle-up", "size": 150, "filled": true, "stroke": "#000000", "strokeWidth": 1, "opacity": 1, "fill": {"gradient": "linear", "x1": 0, "y1": 1, "x2": 1, "y2": 0, "stops": [{"offset": 0, "color": "#ffffff"}, {"offset": 0.25, "color": "#ffffff"}, {"offset": 0.25, "color": "#404040"}, {"offset": 0.35, "color": "#404040"}, {"offset": 0.35, "color": "#ffffff"}, {"offset": 0.5, "color": "#ffffff"}, {"offset": 0.5, "color": "#404040"}, {"offset": 0.6, "color": "#404040"}, {"offset": 0.6, "color": "#ffffff"}, {"offset": 0.75, "color": "#ffffff"}, {"offset": 0.75, "color": "#404040"}, {"offset": 0.85, "color": "#404040"}, {"offset": 0.85, "color": "#ffffff"}, {"offset": 1, "color": "#ffffff"}]}},
       "encoding": {"x": {"field": "hour", "type": "quantitative"}, "y": {"field": "value", "type": "quantitative"}}}
     ]}
 ]}
]
}
